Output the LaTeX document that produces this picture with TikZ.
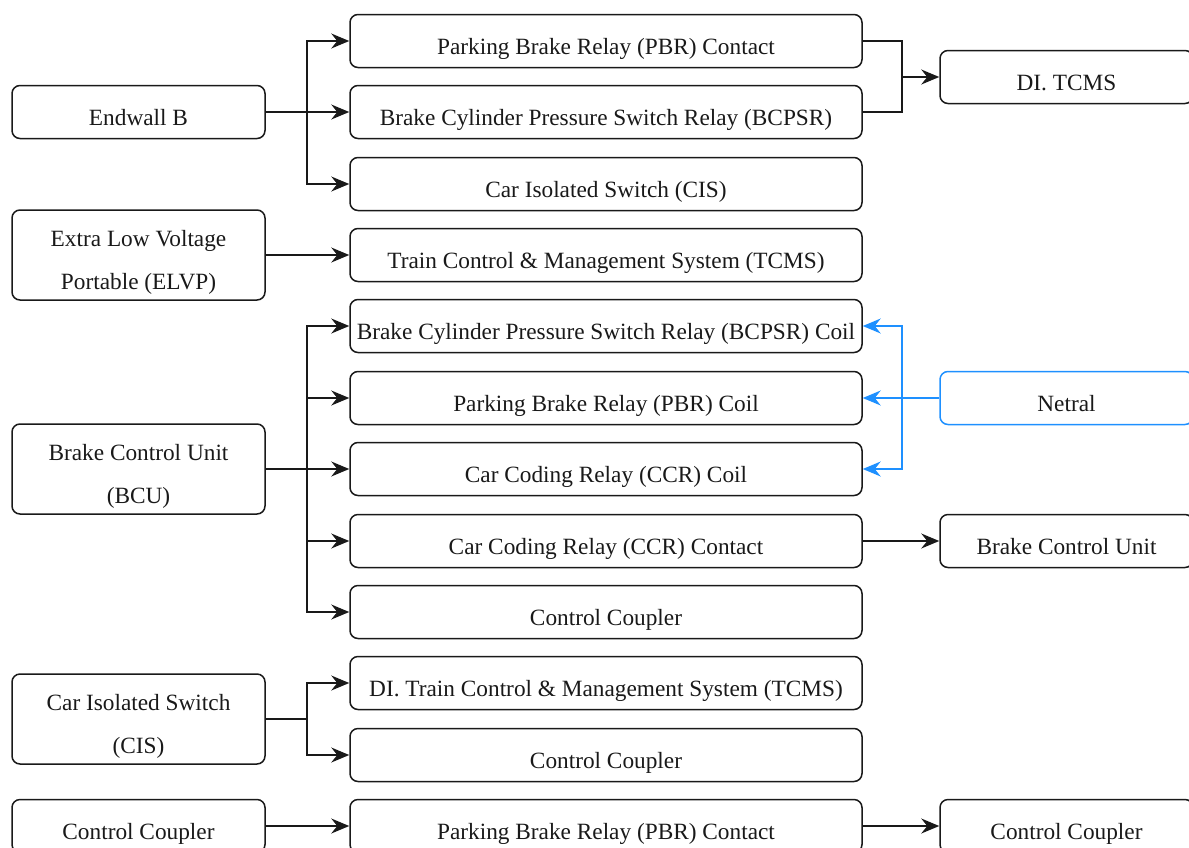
\documentclass[tikz,border=0pt]{standalone}
\usepackage{fontspec}
\setmainfont{Liberation Serif}
\usetikzlibrary{arrows.meta}
\definecolor{netblue}{RGB}{30,144,255}
\definecolor{edge}{RGB}{25,25,25}
\newcommand\tx[1]{\raisebox{-4.5pt}[\height][\depth]{\begin{tabular}{@{}c@{}}#1\end{tabular}}}
\tikzset{
  box/.style={draw=edge, line width=1.5pt, rounded corners=8pt, inner sep=0pt,
    minimum height=53pt, font=\fontsize{23.3}{43}\selectfont, align=center, text=edge},
  midbox/.style={box, minimum width=512pt},
  sidebox/.style={box, minimum width=253pt},
  tallbox/.style={sidebox, minimum height=90pt},
  conn/.style={draw=edge, line width=1.3pt, -{Stealth[length=18pt,width=15pt,inset=6pt]}},
  plain/.style={draw=edge, line width=1.3pt},
  bconn/.style={draw=netblue, line width=1.3pt, -{Stealth[length=18pt,width=15pt,inset=6pt]}},
}
\begin{document}
\begin{tikzpicture}[x=1pt,y=-1pt]
\useasboundingbox (0,0) rectangle (1189,847);
% left column
\node[sidebox] (ew) at (138.5,112) {\tx{Endwall B}};
\node[tallbox] (elvp) at (138.5,255) {\tx{Extra Low Voltage\\Portable (ELVP)}};
\node[tallbox] (bcu) at (138.5,469) {\tx{Brake Control Unit\\(BCU)}};
\node[tallbox] (cis) at (138.5,719) {\tx{Car Isolated Switch\\(CIS)}};
\node[sidebox] (cc0) at (138.5,826) {\tx{Control Coupler}};
% middle column
\node[midbox] (m1) at (606,41) {\tx{Parking Brake Relay (PBR) Contact}};
\node[midbox] (m2) at (606,112) {\tx{Brake Cylinder Pressure Switch Relay (BCPSR)}};
\node[midbox] (m3) at (606,184) {\tx{Car Isolated Switch (CIS)}};
\node[midbox] (m4) at (606,255) {\tx{Train Control \& Management System (TCMS)}};
\node[midbox] (m5) at (606,326) {\tx{Brake Cylinder Pressure Switch Relay (BCPSR) Coil}};
\node[midbox] (m6) at (606,398) {\tx{Parking Brake Relay (PBR) Coil}};
\node[midbox] (m7) at (606,469) {\tx{Car Coding Relay (CCR) Coil}};
\node[midbox] (m8) at (606,541) {\tx{Car Coding Relay (CCR) Contact}};
\node[midbox] (m9) at (606,612) {\tx{Control Coupler}};
\node[midbox] (m10) at (606,683) {\tx{DI. Train Control \& Management System (TCMS)}};
\node[midbox] (m11) at (606,755) {\tx{Control Coupler}};
\node[midbox] (m12) at (606,826) {\tx{Parking Brake Relay (PBR) Contact}};
% right column
\node[sidebox] (r1) at (1066.5,77) {\tx{DI. TCMS}};
\node[sidebox, draw=netblue] (net) at (1066.5,398) {\tx{Netral}};
\node[sidebox] (r2) at (1066.5,541) {\tx{Brake Control Unit}};
\node[sidebox] (r3) at (1066.5,826) {\tx{Control Coupler}};
% junctions
\coordinate (j1) at (307,112);
\coordinate (j2) at (902,77);
\coordinate (j3) at (307,469);
\coordinate (j4) at (902,398);
\coordinate (j5) at (307,719);
% Endwall B
\draw[conn] (ew.east) -- (m2.west);
\draw[conn] (j1) |- (m1.west);
\draw[conn] (j1) |- (m3.west);
% to DI. TCMS
\draw[plain] (m1.east) -| (j2);
\draw[plain] (m2.east) -| (j2);
\draw[conn] (j2) -- (r1.west);
% ELVP
\draw[conn] (elvp.east) -- (m4.west);
% BCU
\draw[conn] (bcu.east) -- (m7.west);
\draw[conn] (j3) |- (m5.west);
\draw[conn] (j3) |- (m6.west);
\draw[conn] (j3) |- (m8.west);
\draw[conn] (j3) |- (m9.west);
% Netral
\draw[bconn] (net.west) -- (m6.east);
\draw[bconn] (j4) |- (m5.east);
\draw[bconn] (j4) |- (m7.east);
% CCR contact
\draw[conn] (m8.east) -- (r2.west);
% CIS
\draw[plain] (cis.east) -- (j5);
\draw[conn] (j5) |- (m10.west);
\draw[conn] (j5) |- (m11.west);
% bottom row
\draw[conn] (cc0.east) -- (m12.west);
\draw[conn] (m12.east) -- (r3.west);
\end{tikzpicture}
\end{document}
